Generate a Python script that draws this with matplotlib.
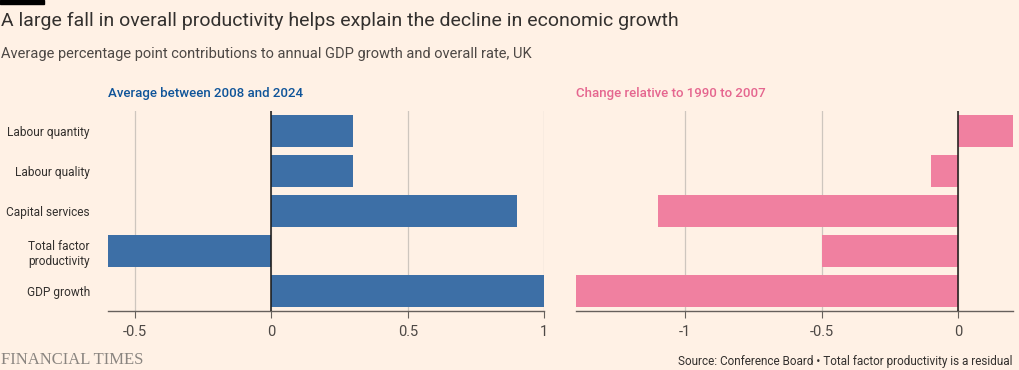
import matplotlib.pyplot as plt
import numpy as np

# Data
categories = ["Labour quantity", "Labour quality", "Capital services",
              "Total factor\nproductivity", "GDP growth"]
avg_2008_2024 = [0.3, 0.3, 0.9, -0.6, 1.0]
change_vs_1990_2007 = [0.2, -0.1, -1.1, -0.5, -1.4]

left_ticks = [-0.5, 0, 0.5, 1]
left_ticklabels = ["-0.5", "0", "0.5", "1"]
right_ticks = [-1, -0.5, 0]
right_ticklabels = ["-1", "-0.5", "0"]

bg = "#FFF1E5"
blue = "#3D6FA6"
pink = "#F080A0"
text_col = "#33302E"
grid_col = "#CEC6BE"
axis_col = "#66605C"

plt.rcParams["font.family"] = ["Roboto", "DejaVu Sans"]

fig = plt.figure(figsize=(10.2, 3.7), dpi=100, facecolor=bg)
W, H = 1020, 370

def box(x0, y0, x1, y1):
    return [x0 / W, 1 - y1 / H, (x1 - x0) / W, (y1 - y0) / H]

ax1 = fig.add_axes(box(108, 111, 544, 311))
ax2 = fig.add_axes(box(576, 111, 1013, 311))

y = np.arange(len(categories))

def style(ax, values, color, xlim, ticks, ticklabels):
    ax.set_facecolor(bg)
    ax.barh(y, values, height=0.8, color=color, zorder=2)
    ax.set_ylim(len(categories) - 0.5, -0.5)
    ax.set_xlim(*xlim)
    ax.set_xticks(ticks)
    ax.set_xticklabels(ticklabels)
    ax.grid(axis="x", color=grid_col, linewidth=0.9, zorder=0)
    ax.axvline(0, color="#1A1817", linewidth=1.1, zorder=3)
    for s in ["top", "right", "left"]:
        ax.spines[s].set_visible(False)
    ax.spines["bottom"].set_color(axis_col)
    ax.spines["bottom"].set_linewidth(1)
    ax.tick_params(axis="x", colors=axis_col, labelcolor="#4D4845",
                   labelsize=10.5, length=5, pad=5)

style(ax1, avg_2008_2024, blue, (-0.6, 1.0), left_ticks, left_ticklabels)
ax1.set_yticks(y)
ax1.set_yticklabels(categories, fontsize=8.6, color=text_col,
                    linespacing=1.2)
ax1.tick_params(axis="y", length=0, pad=13)

style(ax2, change_vs_1990_2007, pink, (-1.4, 0.2), right_ticks, right_ticklabels)
ax2.set_yticks([])

# Panel titles
fig.text(108 / W, 1 - 93 / H, "Average between 2008 and 2024",
         fontsize=9.5, fontweight="medium", color="#0F5499", va="center")
fig.text(576 / W, 1 - 93 / H, "Change relative to 1990 to 2007",
         fontsize=9.5, fontweight="medium", color="#E5668F", va="center")

# Title and subtitle
fig.text(0.001, 1 - 21 / H,
         "A large fall in overall productivity helps explain the decline in economic growth",
         fontsize=14, color=text_col, va="center")
fig.text(0.001, 1 - 54 / H,
         "Average percentage point contributions to annual GDP growth and overall rate, UK",
         fontsize=10.5, color="#4D4845", va="center")

# FT bar at top-left
fig.add_artist(plt.Rectangle((0, 1 - 4 / H), 44 / W, 4 / H,
                             transform=fig.transFigure, color="black"))

# Footer
fig.text(0.001, 1 - 360 / H, "FINANCIAL TIMES", fontsize=12,
         family=["Liberation Serif", "DejaVu Serif"], color="#8A8580",
         va="center")
fig.text(1013 / W, 1 - 361 / H,
         "Source: Conference Board \u2022 Total factor productivity is a residual",
         fontsize=8.5, color=text_col, va="center", ha="right")

fig.savefig("out.png", dpi=100, facecolor=bg)
